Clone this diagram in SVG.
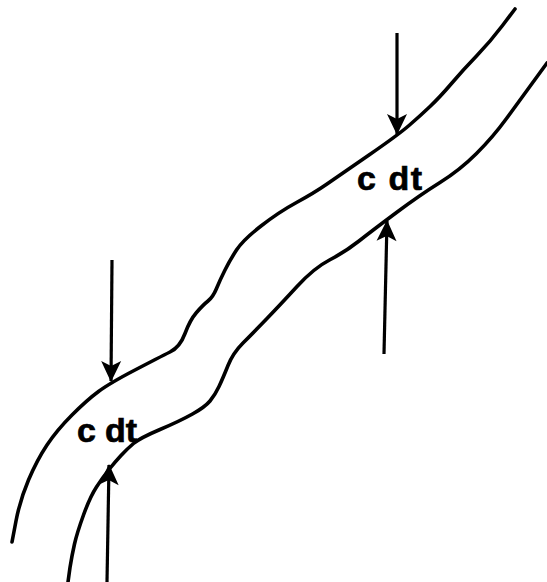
<svg xmlns="http://www.w3.org/2000/svg" width="547" height="582" viewBox="0 0 547 582">
  <style>
    .edge { fill: none; stroke: #000; stroke-width: 3.6; stroke-linecap: round; stroke-linejoin: round; }
    .arrow { fill: none; stroke: #000; stroke-width: 3.2; stroke-linecap: butt; marker-end: url(#head); }
    .lbl { font-family: "Liberation Sans", Arial, sans-serif; font-weight: bold; font-size: 34px; fill: #000; stroke: #000; stroke-width: 0.7; }
  </style>
  <defs>
    <marker id="head" markerUnits="userSpaceOnUse" markerWidth="26" markerHeight="24" viewBox="-22 -12 24 24" refX="0" refY="0" orient="auto">
      <path d="M1,0 L-20,-10 L-15,0 L-20,10 Z" fill="#000"/>
    </marker>
  </defs>
  <rect width="547" height="582" fill="#fff"/>

  <g id="upper-boundary">
    <path class="edge" d="M12,542 L16,521 Q20,500 28.5,480 Q37,460 47,445 Q57,430 72,415 Q87,400 98.5,391.5 Q110,383 135,370 Q160,357 170,352 Q180,347 185,333.5 Q190,320 196.5,312.5 Q203,305 208,301 Q213,297 216.5,288.5 Q220,280 225,270 Q230,260 236.5,250 Q243,240 261,226 Q279,212 296.5,202.5 Q314,193 327,184 Q340,175 369,155 Q398,135 409,125.5 Q420,116 430,106.5 Q440,97 451.5,83.5 Q463,70 476.5,56 Q490,42 502.5,25.5 L515,9"/>
  </g>
  <g id="lower-boundary">
    <path class="edge" d="M68,582 L70,567.5 Q72,555 74.5,544 Q77,533 83.5,515 Q90,497 96.5,487 Q103,477 109,469.5 Q115,462 121,455.5 Q127,449 133.5,443.5 Q140,438 160,429.5 Q180,421 192.5,414 Q205,407 210,401 Q215,395 219,386.5 Q223,378 228,365.5 Q233,353 243,343 Q253,333 266.5,319 Q280,305 297,286.5 Q314,268 329.5,260 Q345,252 359,241 Q373,230 396.5,212.5 Q420,195 440,182.5 Q460,170 476.5,153.5 Q493,137 506.5,118.5 Q520,100 533.5,81.5 L547,63"/>
  </g>

  <g id="label-upper">
    <text class="lbl" x="357" y="190" textLength="65" lengthAdjust="spacing">c dt</text>
  </g>
  <g id="label-lower">
    <text class="lbl" x="77" y="442" textLength="60" lengthAdjust="spacing">c dt</text>
  </g>

  <g id="connectors">
    <path class="arrow" d="M397,33 L397,134"/>
    <path class="arrow" d="M384,354 L387,221"/>
    <path class="arrow" d="M112,260 L111,381"/>
    <path class="arrow" d="M107,582 L109,465"/>
  </g>
</svg>
